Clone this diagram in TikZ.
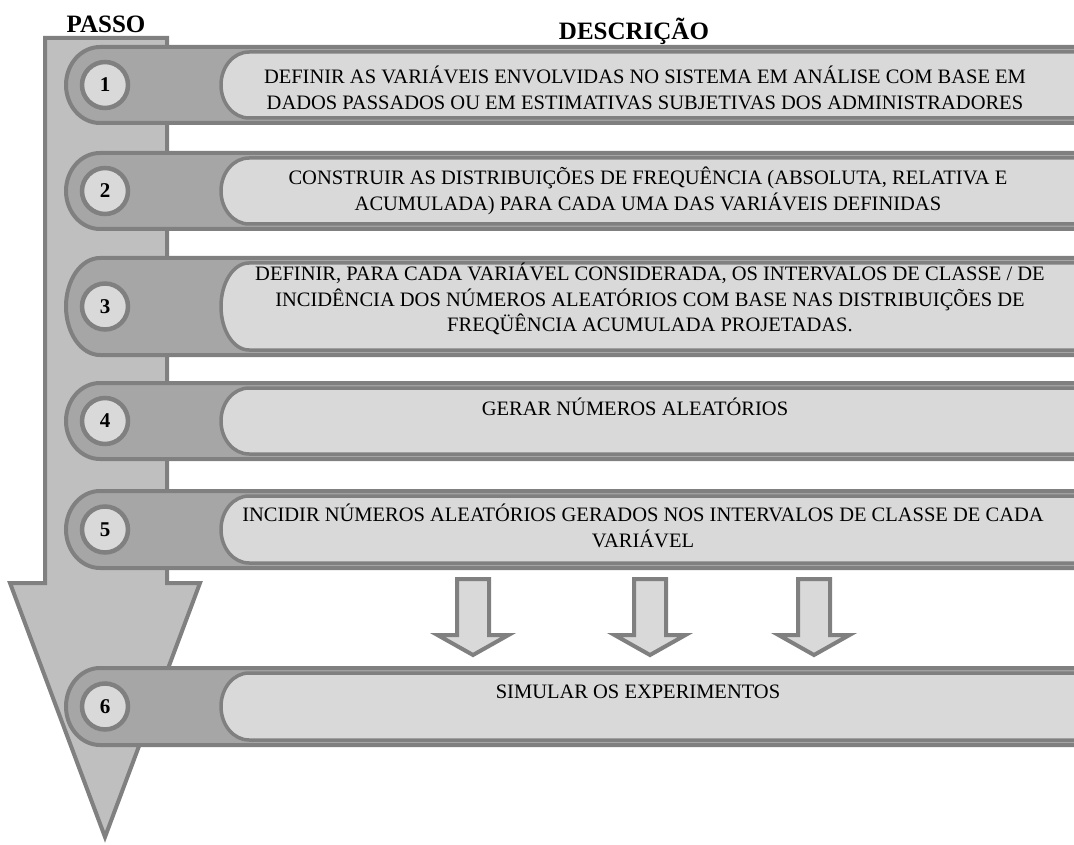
\documentclass[tikz,border=0pt]{standalone}
\usepackage{fontspec}
\setmainfont{Liberation Serif}
\definecolor{edgegray}{HTML}{808080}
\definecolor{arrowfill}{HTML}{BFBFBF}
\definecolor{bardark}{HTML}{A6A6A6}
\definecolor{barlight}{HTML}{D9D9D9}
\tikzset{
  bigarrow/.style={draw=edgegray,fill=arrowfill,line width=4pt,line join=miter},
  barshape/.style={draw=edgegray,fill=bardark,line width=4pt},
  pillshape/.style={draw=edgegray,fill=barlight,line width=3.5pt},
  numcirc/.style={circle,draw=edgegray,fill=barlight,line width=4.5pt,minimum size=46pt,inner sep=0pt,font=\bfseries\fontsize{21}{21}\selectfont},
  desctext/.style={align=center,inner sep=0pt,font=\fontsize{20.5}{25.5}\selectfont},
  headtext/.style={inner sep=0pt,font=\bfseries\fontsize{25}{25}\selectfont},
  downarrow/.style={draw=edgegray,fill=barlight,line width=4pt,line join=miter}
}
\newcommand{\stepbar}[3]{%
  \pgfmathsetmacro\bt{#2}\pgfmathsetmacro\bb{#3}%
  \pgfmathsetmacro\bm{(#2+#3)/2}\pgfmathsetmacro\kr{0.5523*(#3-#2)/2}%
  \pgfmathsetmacro\pt{#2+5}\pgfmathsetmacro\pb{#3-5}%
  \pgfmathsetmacro\kp{0.5523*((#3-#2)/2-5)}%
  \draw[barshape] (1090,\bt) -- (100,\bt) .. controls (81.2,\bt) and (66,\bm-\kr) .. (66,\bm)
     .. controls (66,\bm+\kr) and (81.2,\bb) .. (100,\bb) -- (1090,\bb) -- cycle;
  \draw[pillshape] (1090,\pt) -- (249,\pt) .. controls (233.5,\pt) and (221,\bm-\kp) .. (221,\bm)
     .. controls (221,\bm+\kp) and (233.5,\pb) .. (249,\pb) -- (1090,\pb) -- cycle;
  \node[numcirc] (c#1) at (105,\bm) {#1};
}
\begin{document}
\begin{tikzpicture}[x=1pt,y=-1pt]
\useasboundingbox (0,0) rectangle (1074,845);
\clip (0,0) rectangle (1074,845);
% big arrow
\draw[bigarrow] (45,38) -- (167,38) -- (167,583) -- (200,583) -- (105,837) -- (10,583) -- (45,583) -- cycle;
% headings
\node[headtext] (hpasso) at (106,24) {PASSO};
\node[headtext] (hdesc) at (634,31) {DESCRIÇÃO};
% bars
\stepbar{1}{47}{123}
\stepbar{2}{153}{229}
\stepbar{3}{258}{355}
\stepbar{4}{383}{459}
\stepbar{5}{491}{568}
\stepbar{6}{668}{745}
% texts
\node[desctext] (t1) at (645,88) {DEFINIR AS VARIÁVEIS ENVOLVIDAS NO SISTEMA EM ANÁLISE COM BASE EM\\DADOS PASSADOS OU EM ESTIMATIVAS SUBJETIVAS DOS ADMINISTRADORES};
\node[desctext] (t2) at (648,191) {CONSTRUIR AS DISTRIBUIÇÕES DE FREQUÊNCIA (ABSOLUTA, RELATIVA E\\ACUMULADA) PARA CADA UMA DAS VARIÁVEIS DEFINIDAS};
\node[desctext] (t3) at (650,299) {DEFINIR, PARA CADA VARIÁVEL CONSIDERADA, OS INTERVALOS DE CLASSE / DE\\INCIDÊNCIA DOS NÚMEROS ALEATÓRIOS COM BASE NAS DISTRIBUIÇÕES DE\\FREQÜÊNCIA ACUMULADA PROJETADAS.};
\node[desctext] (t4) at (635,407) {GERAR NÚMEROS ALEATÓRIOS};
\node[desctext] (t5) at (643,526) {INCIDIR NÚMEROS ALEATÓRIOS GERADOS NOS INTERVALOS DE CLASSE DE CADA\\VARIÁVEL};
\node[desctext] (t6) at (638,692) {SIMULAR OS EXPERIMENTOS};
% small arrows between step 5 and 6
\foreach \cx/\nm in {473/a1,650/a2,814/a3}{
  \draw[downarrow] (\cx-16,579) -- (\cx+16,579) -- (\cx+16,635) -- (\cx+35.5,635) -- (\cx,655) -- (\cx-35.5,635) -- (\cx-16,635) -- cycle;
}
\end{tikzpicture}
\end{document}
